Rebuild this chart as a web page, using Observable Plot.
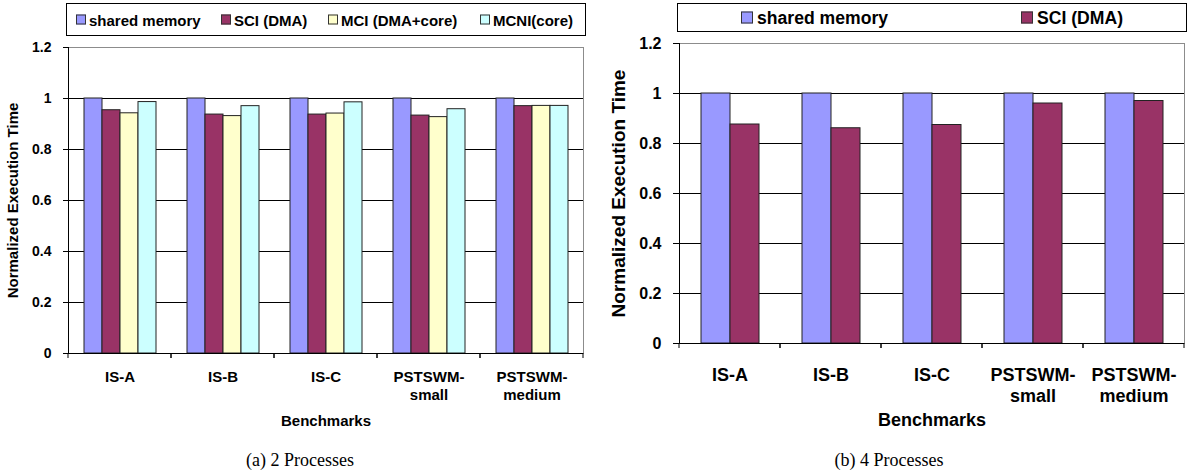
<!DOCTYPE html>
<html><head><meta charset="utf-8">
<script src="https://cdn.jsdelivr.net/npm/d3@7"></script>
<script src="https://cdn.jsdelivr.net/npm/@observablehq/plot@0.6"></script>
<style>
body{margin:0;background:#fff;width:1190px;height:472px;position:relative;overflow:hidden;font-family:"Liberation Sans",Arial,sans-serif;color:#000}
.abs{position:absolute}
.legend{position:absolute;border:1px solid #000;box-sizing:border-box;background:#fff;font-weight:bold}
.item{position:absolute;top:50%;transform:translateY(-50%);display:flex;align-items:center;white-space:nowrap}
.sw{display:inline-block;border:1px solid #333;box-sizing:border-box}
.caption{position:absolute;font-family:"Liberation Serif","Times New Roman",serif;transform:translate(-50%,-50%);white-space:nowrap}
</style></head><body>
<div id="left" class="abs" style="left:0;top:36px"></div>
<div id="right" class="abs" style="left:600px;top:33px"></div>
<div id="legendLeft" class="legend" style="left:66px;top:3px;width:520px;height:33px;font-size:15px"></div>
<div id="legendRight" class="legend" style="left:677px;top:3px;width:510px;height:29px;font-size:17.6px"></div>
<div class="caption" style="left:300px;top:460px;font-size:18px">(a) 2 Processes</div>
<div class="caption" style="left:889px;top:460px;font-size:18px">(b) 4 Processes</div>
<script>
const categories = ["IS-A", "IS-B", "IS-C", "PSTSWM-small", "PSTSWM-medium"];
const categoryLabels = ["IS-A", "IS-B", "IS-C", "PSTSWM-\nsmall", "PSTSWM-\nmedium"];
const seriesNames = ["shared memory", "SCI (DMA)", "MCI (DMA+core)", "MCNI(core)"];
const seriesColors = ["#9999ff", "#993366", "#ffffcc", "#ccffff"];
// (a) 2 Processes
const sharedMemory2 = [1.0, 1.0, 1.0, 1.0, 1.0];
const sci2 = [0.954, 0.937, 0.937, 0.933, 0.970];
const mci2 = [0.942, 0.931, 0.941, 0.927, 0.971];
const mcni2 = [0.986, 0.970, 0.985, 0.958, 0.971];
// (b) 4 Processes
const sharedMemory4 = [1.0, 1.0, 1.0, 1.0, 1.0];
const sci4 = [0.876, 0.861, 0.874, 0.960, 0.970];
const yTicks = [0, 0.2, 0.4, 0.6, 0.8, 1, 1.2];
const gridTicks = [0.2, 0.4, 0.6, 0.8, 1];

const FONT = '"Liberation Sans", Arial, sans-serif';

function boundaryTicks(index, scales, values, dims) {
  const y0 = dims.height - dims.marginBottom;
  const g = d3.create("svg:g").attr("stroke", "#000");
  for (const x of [dims.marginLeft, dims.width - dims.marginRight]) {
    g.append("line").attr("x1", x).attr("x2", x).attr("y1", y0).attr("y2", y0 + 5);
  }
  return g.node();
}

function panel(o) {
  const data = [];
  o.series.forEach((s, j) => o.values[j].forEach((v, i) => data.push({category: categories[i], series: s, value: v})));
  const labelOf = new Map(categories.map((c, i) => [c, categoryLabels[i]]));
  const svg = Plot.plot({
    width: o.width, height: o.height,
    marginLeft: o.ml, marginRight: o.mr, marginTop: o.mt, marginBottom: o.mb,
    style: {fontFamily: FONT, fontWeight: "bold", fontSize: o.tickFont + "px", color: "#000", background: "transparent", overflow: "visible"},
    fx: {domain: categories, padding: 0, label: null},
    x: {domain: o.series, paddingInner: 0, paddingOuter: o.po, axis: null},
    y: {domain: [0, 1.2]},
    color: {domain: o.series, range: o.colors},
    marks: [
      Plot.gridY(gridTicks, {stroke: "#000", strokeOpacity: 1}),
      Plot.frame({anchor: "top", stroke: "#8c8c8c", strokeOpacity: 1}),
      Plot.frame({anchor: "right", stroke: "#8c8c8c", strokeOpacity: 1, facetAnchor: "right"}),
      Plot.barY(data, {fx: "category", x: "series", y: "value", fill: "series", stroke: "#222", strokeWidth: 1}),
      Plot.ruleY([0], {stroke: "#000"}),
      Plot.frame({anchor: "left", stroke: "#000", strokeOpacity: 1, facetAnchor: "left"}),
      boundaryTicks,
      Plot.axisY(yTicks, {tickSize: o.yTickSize, tickPadding: o.yTickPad, tickFormat: d => String(d), fontSize: o.tickFont,
        label: "Normalized Execution Time", labelAnchor: "center", labelOffset: o.yLabelOffset, labelArrow: "none", stroke: "#000"}),
      Plot.axisFx({anchor: "bottom", tickSize: 0, tickPadding: o.fxPad, tickFormat: c => labelOf.get(c), fontSize: o.catFont, lineHeight: o.lineHeight,
        label: "Benchmarks", labelAnchor: "center", labelOffset: o.fxLabelOffset})
    ]
  });
  d3.select(svg).selectAll('[aria-label="y-axis label"], [aria-label="y-axis label"] text').style("font-size", o.yTitleFont + "px");
  d3.select(svg).selectAll('[aria-label="fx-axis label"], [aria-label="fx-axis label"] text').style("font-size", o.xTitleFont + "px");
  return svg;
}

const left = panel({
  width: 600, height: 405, ml: 66, mr: 15, mt: 11, mb: 88,
  po: 0.77, series: seriesNames, colors: seriesColors,
  values: [sharedMemory2, sci2, mci2, mcni2],
  tickFont: 14, catFont: 15, lineHeight: 1.22, yTickSize: 5, yTickPad: 12,
  yLabelOffset: 61, fxPad: 15, fxLabelOffset: 72, yTitleFont: 15, xTitleFont: 15
});
document.getElementById("left").appendChild(left);

const right = panel({
  width: 590, height: 400, ml: 77, mr: 5, mt: 10, mb: 90,
  po: 0.72, series: seriesNames.slice(0, 2), colors: seriesColors.slice(0, 2),
  values: [sharedMemory4, sci4],
  tickFont: 16, catFont: 18, lineHeight: 1.2, yTickSize: 6, yTickPad: 12,
  yLabelOffset: 68, fxPad: 22, fxLabelOffset: 82, yTitleFont: 19, xTitleFont: 18
});
document.getElementById("right").appendChild(right);

function buildLegend(id, names, colors, swatchX, textGap, sw, boxLeft) {
  const el = document.getElementById(id);
  names.forEach((n, i) => {
    const it = document.createElement("div");
    it.className = "item";
    it.style.left = (swatchX[i] - boxLeft - 1) + "px";
    const s = document.createElement("span");
    s.className = "sw";
    s.style.width = sw + "px"; s.style.height = sw + "px";
    s.style.background = colors[i];
    s.style.marginRight = textGap + "px";
    const t = document.createElement("span");
    t.textContent = n;
    it.appendChild(s); it.appendChild(t);
    el.appendChild(it);
  });
}
buildLegend("legendLeft", seriesNames, seriesColors, [76, 221, 328, 480], 3, 10, 66);
buildLegend("legendRight", seriesNames.slice(0, 2), seriesColors.slice(0, 2), [741, 1021], 4, 12, 677);
</script>
</body></html>
